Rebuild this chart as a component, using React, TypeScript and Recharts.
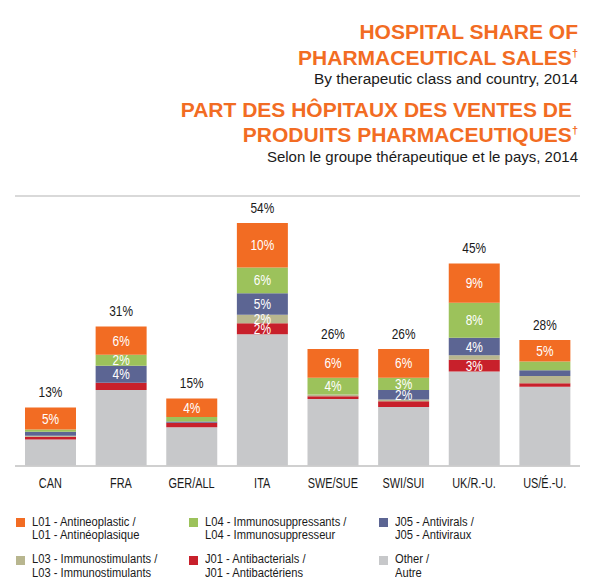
import React from 'react';
import { BarChart, Bar, XAxis, YAxis, CartesianGrid, LabelList } from 'recharts';

const COUNTRIES = ['CAN', 'FRA', 'GER/ALL', 'ITA', 'SWE/SUE', 'SWI/SUI', 'UK/R.-U.', 'US/É.-U.'];
const TOTALS = [13, 31, 15, 54, 26, 26, 45, 28];

// share of pharmaceutical sales, %
const L01 = [4.9, 6.3, 4.1, 9.9, 6.4, 6.4, 8.7, 4.8];
const L04 = [0.5, 2.4, 1.0, 5.7, 3.7, 2.7, 7.8, 1.9];
const J05 = [0.9, 3.8, 0.3, 4.8, 0, 2.1, 3.9, 1.3];
const L03 = [0.2, 0, 0, 1.9, 0.4, 0.4, 1.0, 1.6];
const J01 = [0.6, 1.6, 1.0, 2.4, 0.6, 1.3, 2.6, 0.8];
const OTHER = [5.9, 16.9, 8.6, 29.3, 14.9, 13.1, 21.0, 17.6];

// which segments carry a value label
const L01_SHOW = [true, true, true, true, true, true, true, true];
const L04_SHOW = [false, true, false, true, true, true, true, false];
const J05_SHOW = [false, true, false, true, false, true, true, false];
const L03_SHOW = [false, false, false, true, false, false, false, false];
const J01_SHOW = [false, false, false, true, false, false, true, false];
const OTHER_SHOW = [false, false, false, false, false, false, false, false];

const Y_TICKS = [0, 10, 20, 30, 40, 50, 60];

// legend order; bars are stacked in reverse
const SERIES = [
  { key: 'L01', values: L01, show: L01_SHOW, color: '#F26C23', en: 'L01 - Antineoplastic /', fr: 'L01 - Antinéoplasique' },
  { key: 'L04', values: L04, show: L04_SHOW, color: '#9CC25B', en: 'L04 - Immunosuppressants /', fr: 'L04 - Immunosuppresseur' },
  { key: 'J05', values: J05, show: J05_SHOW, color: '#5C6593', en: 'J05 - Antivirals /', fr: 'J05 - Antiviraux' },
  { key: 'L03', values: L03, show: L03_SHOW, color: '#B8B68F', en: 'L03 - Immunostimulants /', fr: 'L03 - Immunostimulants' },
  { key: 'J01', values: J01, show: J01_SHOW, color: '#C8202B', en: 'J01 - Antibacterials /', fr: 'J01 - Antibactériens' },
  { key: 'OTHER', values: OTHER, show: OTHER_SHOW, color: '#C7C8CA', en: 'Other /', fr: 'Autre' },
];

const data = COUNTRIES.map((country, i) => {
  const row: Record<string, string | number> = { country, total: TOTALS[i] };
  SERIES.forEach((s) => {
    row[s.key] = s.values[i];
    row[s.key + '_label'] = s.show[i] ? `${Math.round(s.values[i])}%` : '';
  });
  return row;
});

const SANS = "'Liberation Sans', Arial, sans-serif";
const ORANGE = '#F26C23';
const INK = '#1a1a1a';
const GRID = '#CDCDCD';

// condensed look: Liberation Sans squeezed horizontally
const Squeezed = ({ x, y, sx, size, fill, children }: any) => (
  <text
    transform={`translate(${x},${y}) scale(${sx},1)`}
    textAnchor="middle"
    fontFamily={SANS}
    fontSize={size}
    fill={fill}
  >
    {children}
  </text>
);

const segmentLabel = (props: any) => {
  const vb = props.viewBox || props;
  if (!props.value) return null;
  return (
    <Squeezed x={vb.x + vb.width / 2} y={vb.y + vb.height / 2 + 5} sx={0.82} size={14.5} fill="#fff">
      {props.value}
    </Squeezed>
  );
};

const totalLabel = (props: any) => {
  const vb = props.viewBox || props;
  return (
    <Squeezed x={vb.x + vb.width / 2} y={vb.y - 10.5} sx={0.82} size={14.5} fill={INK}>
      {`${props.value}%`}
    </Squeezed>
  );
};

const countryTick = (props: any) => (
  <Squeezed x={props.x} y={487.5} sx={0.78} size={14} fill={INK}>
    {props.payload.value}
  </Squeezed>
);

const Titles = () => (
  <svg width={600} height={180} style={{ position: 'absolute', left: 0, top: 0 }}>
    <g fontFamily={SANS} textAnchor="end">
      <text x={578} y={39} fontSize={21} fontWeight="bold" fill={ORANGE}>HOSPITAL SHARE OF</text>
      <text x={578} y={65} fontSize={21} fontWeight="bold" fill={ORANGE}>
        PHARMACEUTICAL SALES<tspan fontSize={11} dy={-8}>†</tspan>
      </text>
      <text x={578} y={84} fontSize={15.4} fill={INK}>By therapeutic class and country, 2014</text>
      <text x={572} y={117} fontSize={21} fontWeight="bold" fill={ORANGE}>PART DES HÔPITAUX DES VENTES DE</text>
      <text x={578} y={142} fontSize={21} fontWeight="bold" fill={ORANGE}>
        PRODUITS PHARMACEUTIQUES<tspan fontSize={11} dy={-8}>†</tspan>
      </text>
      <text x={578} y={162} fontSize={15} fill={INK}>Selon le groupe thérapeutique et le pays, 2014</text>
    </g>
  </svg>
);

const LEGEND_COLS = [16, 189, 379];
const LEGEND_ROWS = [518, 555.5];

const Legend = () => (
  <div style={{ position: 'absolute', left: 0, top: 0 }}>
    {SERIES.map((s, i) => {
      const x = LEGEND_COLS[i % 3];
      const y = LEGEND_ROWS[Math.floor(i / 3)];
      return (
        <div key={s.key}>
          <div style={{ position: 'absolute', left: x, top: y, width: 9, height: 9, background: s.color }} />
          <div
            style={{
              position: 'absolute',
              left: x + 16,
              top: y - 2.2,
              fontFamily: SANS,
              fontSize: 12,
              lineHeight: '13.3px',
              color: INK,
              whiteSpace: 'nowrap',
              transform: 'scaleX(0.93)',
              transformOrigin: 'left top',
            }}
          >
            {s.en}
            <br />
            {s.fr}
          </div>
        </div>
      );
    })}
  </div>
);

const App = () => (
  <div style={{ position: 'absolute', left: 0, top: 0, width: 600, height: 586, background: '#fff' }}>
    <Titles />
    <div style={{ position: 'absolute', left: 0, top: 0 }}>
      <BarChart
        width={600}
        height={500}
        data={data}
        margin={{ top: 196, right: 20, left: 15, bottom: 0 }}
        barSize={51}
      >
        <CartesianGrid vertical={false} stroke={GRID} strokeWidth={1.5} />
        <YAxis
          domain={[0, 60]}
          ticks={Y_TICKS}
          width={0}
          tick={false}
          tickLine={false}
          axisLine={{ stroke: GRID, strokeWidth: 2 }}
        />
        <XAxis
          dataKey="country"
          height={34}
          tickLine={false}
          axisLine={{ stroke: GRID, strokeWidth: 1.5 }}
          tick={countryTick}
        />
        {[...SERIES].reverse().map((s) => (
          <Bar key={s.key} dataKey={s.key} stackId="a" fill={s.color} isAnimationActive={false}>
            <LabelList dataKey={s.key + '_label'} position="center" content={segmentLabel} />
            {s.key === 'L01' && <LabelList dataKey="total" position="top" content={totalLabel} />}
          </Bar>
        ))}
      </BarChart>
    </div>
    <Legend />
  </div>
);

export default App;
